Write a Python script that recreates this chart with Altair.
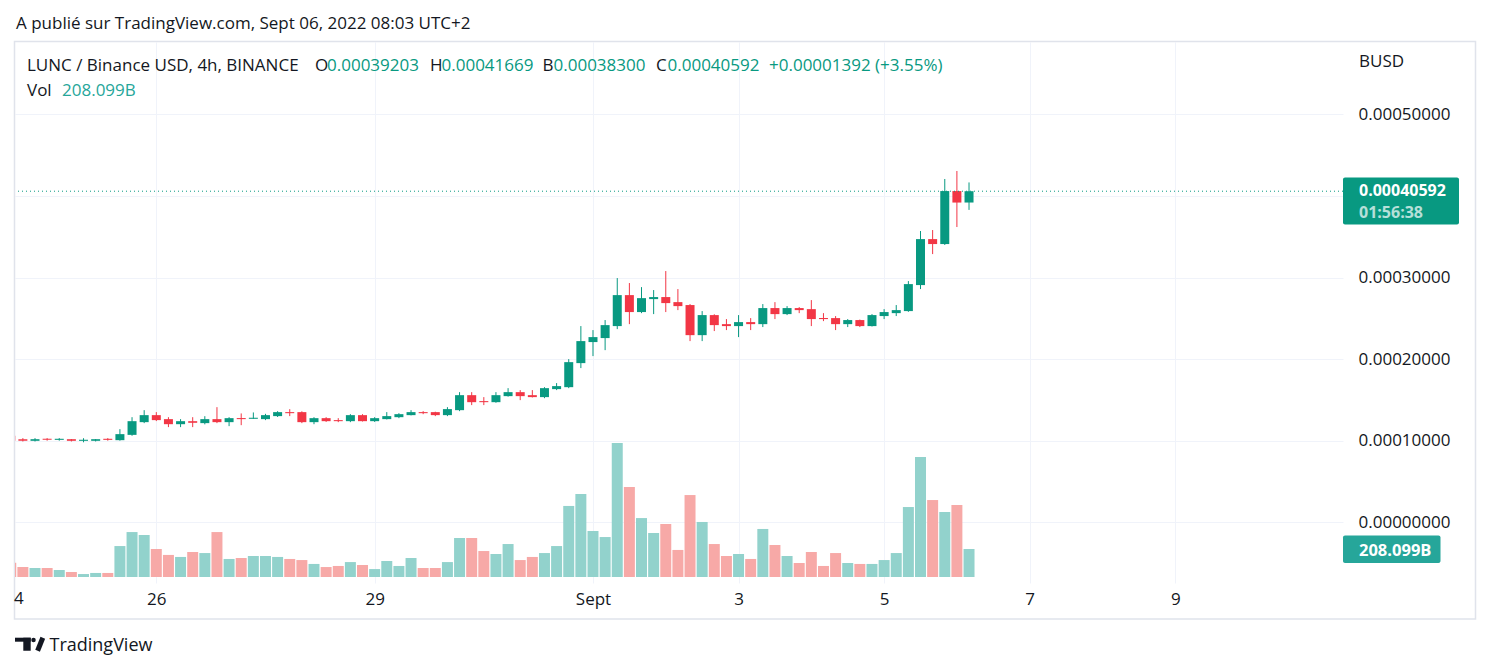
import altair as alt
import pandas as pd

# ---------------- data (prices in units of 1e-4 BUSD, volume in billions) ----------------
candle_k = list(range(-12, 68))  # 4h candle index, 0 = 26 Aug 00:00

open_e4 = [1.060, 1.018, 0.998, 1.018, 1.010, 1.018, 0.998, 0.998, 1.018, 1.006,
           1.071, 1.227, 1.313, 1.264, 1.202, 1.239, 1.215, 1.264, 1.227, 1.276,
           1.268, 1.264, 1.301, 1.350, 1.350, 1.227, 1.276, 1.252, 1.239, 1.313,
           1.239, 1.264, 1.288, 1.313, 1.350, 1.350, 1.313, 1.374, 1.558, 1.485,
           1.472, 1.546, 1.595, 1.558, 1.534, 1.632, 1.656, 1.951, 2.209, 2.258,
           2.405, 2.785, 2.577, 2.736, 2.761, 2.699, 2.663, 2.294, 2.540, 2.429,
           2.405, 2.454, 2.429, 2.626, 2.552, 2.626, 2.613, 2.503, 2.503, 2.429,
           2.479, 2.405, 2.528, 2.564, 2.589, 2.908, 3.472, 3.411, 4.061, 3.9203]
high_e4 = [1.070, 1.031, 1.031, 1.031, 1.031, 1.020, 1.030, 1.020, 1.031, 1.141,
           1.288, 1.374, 1.350, 1.288, 1.264, 1.288, 1.300, 1.411, 1.288, 1.334,
           1.346, 1.329, 1.362, 1.386, 1.360, 1.288, 1.288, 1.276, 1.325, 1.325,
           1.288, 1.350, 1.337, 1.374, 1.362, 1.355, 1.411, 1.595, 1.595, 1.534,
           1.595, 1.644, 1.620, 1.620, 1.656, 1.706, 2.000, 2.405, 2.356, 2.479,
           2.994, 2.933, 2.883, 2.847, 3.080, 2.859, 2.675, 2.589, 2.550, 2.491,
           2.540, 2.503, 2.675, 2.699, 2.650, 2.638, 2.724, 2.564, 2.528, 2.491,
           2.485, 2.552, 2.613, 2.663, 2.957, 3.571, 3.583, 4.209, 4.307, 4.1669]
low_e4 = [0.990, 0.990, 0.990, 1.000, 1.000, 0.990, 0.980, 0.990, 1.000, 1.000,
          1.060, 1.215, 1.240, 1.166, 1.166, 1.166, 1.200, 1.215, 1.178, 1.190,
          1.268, 1.252, 1.290, 1.301, 1.215, 1.202, 1.230, 1.227, 1.227, 1.235,
          1.230, 1.260, 1.276, 1.310, 1.325, 1.301, 1.301, 1.362, 1.436, 1.436,
          1.465, 1.540, 1.497, 1.530, 1.521, 1.620, 1.644, 1.890, 2.037, 2.110,
          2.368, 2.429, 2.564, 2.552, 2.577, 2.601, 2.221, 2.221, 2.344, 2.356,
          2.270, 2.356, 2.393, 2.491, 2.540, 2.564, 2.405, 2.466, 2.356, 2.393,
          2.393, 2.400, 2.491, 2.528, 2.580, 2.859, 3.288, 3.400, 3.620, 3.830]
close_e4 = [1.000, 0.998, 1.018, 1.010, 1.018, 0.998, 1.006, 1.018, 1.010, 1.080,
            1.239, 1.313, 1.252, 1.202, 1.239, 1.219, 1.264, 1.227, 1.276, 1.264,
            1.276, 1.313, 1.350, 1.337, 1.227, 1.276, 1.239, 1.239, 1.313, 1.239,
            1.276, 1.301, 1.325, 1.350, 1.337, 1.313, 1.387, 1.558, 1.472, 1.472,
            1.558, 1.595, 1.546, 1.534, 1.644, 1.669, 1.963, 2.221, 2.270, 2.417,
            2.785, 2.577, 2.748, 2.761, 2.687, 2.650, 2.294, 2.540, 2.417, 2.405,
            2.454, 2.429, 2.626, 2.552, 2.626, 2.601, 2.491, 2.491, 2.429, 2.479,
            2.405, 2.540, 2.577, 2.601, 2.920, 3.472, 3.411, 4.061, 3.9200, 4.0592]
volume_b = [106, 74, 67, 67, 52, 37, 22, 30, 30, 230,
            334, 312, 208, 164, 149, 186, 178, 334, 134, 141,
            156, 156, 149, 134, 126, 97, 74, 82, 111, 89,
            59, 119, 82, 141, 67, 67, 111, 290, 290, 193,
            171, 245, 126, 149, 178, 230, 528, 617, 342, 297,
            996, 669, 438, 327, 394, 201, 609, 409, 245, 156,
            171, 134, 357, 238, 156, 104, 186, 82, 178, 104,
            97, 97, 126, 178, 520, 892, 572, 483, 535, 208.099]

day_tick_k = [0, 18, 36, 48, 60, 72, 84]
day_tick_labels = ["26", "29", "Sept", "3", "5", "7", "9"]
price_ticks = [0.0, 0.0001, 0.0002, 0.0003, 0.0004, 0.0005]

# ---------------- table ----------------
S = 1e-4
df = pd.DataFrame({
    "k": candle_k,
    "open": [v * S for v in open_e4],
    "high": [v * S for v in high_e4],
    "low": [v * S for v in low_e4],
    "close": [v * S for v in close_e4],
    "vol": volume_b,
})
df["dir"] = ["up" if c >= o else "down" for o, c in zip(df["open"], df["close"])]
df["vdir"] = ["v" + d for d in df["dir"]]
df["body_lo"] = df[["open", "close"]].min(axis=1)
df["body_hi"] = pd.concat([df[["open", "close"]].max(axis=1), df["body_lo"] + 1.3e-6], axis=1).max(axis=1)
df["bx0"] = df["k"] - 0.371
df["bx1"] = df["k"] + 0.371
df["vx0"] = df["k"] - 0.453
df["vx1"] = df["k"] + 0.453
df["zero"] = 0.0

last = df.iloc[-1]
prev = df.iloc[-2]
last_price = float(last["close"])

FONT = "Open Sans"
DARK = "#131722"
GREEN = "#089981"
RED = "#f23645"
TEAL = "#26a69a"
GRID = "#f0f3fa"

W, H = 1328, 541
OX, OY = 15, 42  # page position of plot origin

xscale = alt.Scale(domain=[-11.649, 97.83], nice=False, zero=False)
pscale = alt.Scale(domain=[-0.00007456, 0.0005889], nice=False, zero=False)
vscale = alt.Scale(domain=[-44.6, 3976], nice=False, zero=False)

label_expr = " : ".join(
    f"datum.value == {k} ? '{t}'" for k, t in zip(day_tick_k, day_tick_labels)
) + " : ''"

xaxis = alt.Axis(values=day_tick_k, labelExpr=label_expr, title=None, grid=True,
                 gridColor=GRID, gridWidth=1, domain=False, ticks=False,
                 labelFont=FONT, labelFontSize=17, labelColor=DARK,
                 labelBaseline="alphabetic", labelPadding=21, labelOverlap=False,
                 labelFlush=False)
# the 0.0004 label sits under the live-price tag, so only its grid line shows
yaxis = alt.Axis(values=price_ticks, format=".8f", orient="right", title=None,
                 labelExpr="(datum.value > 0.00039 && datum.value < 0.00041) ? '' : datum.label",
                 grid=True, gridColor=GRID, gridWidth=1, domain=False, ticks=False,
                 labelFont=FONT, labelFontSize=17, labelColor=DARK, labelAlign="left",
                 labelBaseline="middle", labelPadding=15, labelOverlap=False)

base = alt.Chart(df)

vol = base.mark_rect(clip=True).encode(
    x=alt.X("vx0:Q", scale=xscale, axis=xaxis),
    x2="vx1:Q",
    y=alt.Y("vol:Q", scale=vscale, axis=None),
    y2="zero:Q",
    color=alt.Color("vdir:N", scale=alt.Scale(domain=["vup", "vdown"], range=["#92d2cc", "#f7a9a7"]), legend=None),
)

wick = base.mark_rule(clip=True, strokeWidth=1).encode(
    x=alt.X("k:Q", scale=xscale, axis=xaxis),
    y=alt.Y("low:Q", scale=pscale, axis=yaxis),
    y2="high:Q",
    color=alt.Color("dir:N", scale=alt.Scale(domain=["up", "down"], range=[GREEN, RED]), legend=None),
)

body = base.mark_rect(clip=True).encode(
    x=alt.X("bx0:Q", scale=xscale, axis=xaxis),
    x2="bx1:Q",
    y=alt.Y("body_lo:Q", scale=pscale, axis=None),
    y2="body_hi:Q",
    color=alt.Color("dir:N", scale=alt.Scale(domain=["up", "down"], range=[GREEN, RED]), legend=None),
)

dotted = alt.Chart(pd.DataFrame({"p": [last_price]})).mark_rule(
    color=GREEN, strokeWidth=1, strokeDash=[1, 3]
).encode(y=alt.Y("p:Q", scale=pscale, axis=None))


def one():
    return alt.Chart(pd.DataFrame({"a": [0]}))


def text(t, px, py, color=DARK, size=17, weight="normal", align="left", baseline="alphabetic", opacity=1.0):
    return alt.Chart(pd.DataFrame({"t": [t]})).mark_text(
        align=align, baseline=baseline, font=FONT, fontSize=size, fontWeight=weight,
        color=color, opacity=opacity
    ).encode(x=alt.value(px - OX), y=alt.value(py - OY), text="t:N")


def box(x0, y0, x1, y1, color, radius=2):
    return one().mark_rect(color=color, cornerRadius=radius).encode(
        x=alt.value(x0 - OX), x2=alt.value(x1 - OX), y=alt.value(y0 - OY), y2=alt.value(y1 - OY))


frame = one().mark_rect(fillOpacity=0, stroke="#e0e3eb", strokeWidth=1.5).encode(
    x=alt.value(14.5 - OX), x2=alt.value(1475.5 - OX), y=alt.value(41.5 - OY), y2=alt.value(619 - OY))

chg = float(last["close"] - prev["close"])
pct = chg / float(prev["close"]) * 100

texts = [
    text("A publié sur TradingView.com, Sept 06, 2022 08:03 UTC+2", 16, 29),
    text("LUNC / Binance USD, 4h, BINANCE", 27, 71),
    text("O", 315, 71), text(f"{last['open']:.8f}", 327, 71, GREEN),
    text("H", 430, 71), text(f"{last['high']:.8f}", 441.5, 71, GREEN),
    text("B", 542.5, 71), text(f"{last['low']:.8f}", 553.5, 71, GREEN),
    text("C", 656, 71), text(f"{last['close']:.8f}", 667.5, 71, GREEN),
    text(f"{chg:+.8f} ({pct:+.2f}%)", 769, 71, GREEN),
    text("Vol", 27, 95.7), text(f"{last['vol']:.3f}B", 62, 95.7, TEAL),
    text("BUSD", 1359, 67),
    text("4", 14, 604),
]

price_box = box(1343, 177.5, 1459, 224.5, GREEN)
price_txt = text(f"{last_price:.8f}", 1359, 195.5, "white", size=16, weight="bold")
timer_txt = text("01:56:38", 1359, 217.5, "white", size=16, weight="bold", opacity=0.7)
vol_box = box(1343, 535.6, 1440.5, 562.9, TEAL)
vol_txt = text(f"{last['vol']:.3f}B", 1359, 556, "white", size=16.5, weight="bold")

logo = [
    box(15, 637.7, 30.7, 641.7, DARK, 0),
    box(23.3, 637.7, 30.7, 650.7, DARK, 0),
    one().mark_circle(size=20, color=DARK, opacity=1).encode(x=alt.value(33.5 - OX), y=alt.value(640 - OY)),
    one().mark_rule(strokeWidth=5, color=DARK).encode(
        x=alt.value(37.6 - OX), y=alt.value(650.7 - OY), x2=alt.value(42.8 - OX), y2=alt.value(637.7 - OY)),
    text("TradingView", 49.5, 651, DARK, size=18),
]

chart = alt.layer(
    frame, vol, wick, body, dotted, *texts,
    price_box, price_txt, timer_txt, vol_box, vol_txt, *logo
).resolve_scale(
    y="independent", color="independent"
).properties(
    width=W, height=H,
    autosize=alt.AutoSizeParams(type="none"),
    padding={"left": 7, "top": 34, "right": 139, "bottom": 81},
    background="white",
).configure_view(stroke=None)

chart.save("out.html", embed_options={"renderer": "svg", "actions": False})
